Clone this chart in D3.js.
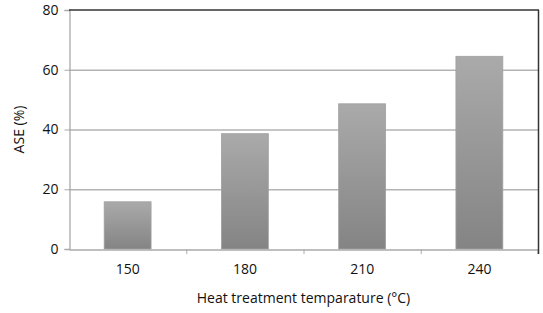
<!DOCTYPE html>
<html><head><meta charset="utf-8">
<script src="https://cdn.jsdelivr.net/npm/d3@7"></script>
<style>body{margin:0;background:#fff}svg{display:block}text{font-family:"Open Sans",Carlito,Calibri,sans-serif}</style>
</head><body><svg id="c" width="543" height="313"></svg>
<script>
const categories = ["150","180","210","240"];
const values = [15.8, 38.6, 48.6, 64.5];
const yTicks = [0,20,40,60,80];
const xTitle = "Heat treatment temparature (°C)";
const yTitle = "ASE (%)";

const svg = d3.select("#c");
const m = {l:69, r:538, t:10, b:249};
const x = d3.scaleBand().domain(categories).range([m.l, m.r]).paddingInner(0.6).paddingOuter(0.3);
const xb = d3.scaleBand().domain(categories).range([m.l, m.r]);
const y = d3.scaleLinear().domain([0,80]).range([m.b, m.t]);

const defs = svg.append("defs");
const g = defs.append("linearGradient").attr("id","bg").attr("x1",0).attr("y1",0).attr("x2",0).attr("y2",1);
g.append("stop").attr("offset","0%").attr("stop-color","#aaaaaa");
g.append("stop").attr("offset","100%").attr("stop-color","#848484");

// gridlines
svg.append("g").selectAll("line").data(yTicks.filter(d=>d>0 && d<80)).join("line")
  .attr("x1",m.l).attr("x2",m.r).attr("y1",d=>y(d)+0.5).attr("y2",d=>y(d)+0.5)
  .attr("stroke","#b3b3b3").attr("stroke-width",1.3);

// bars
svg.append("g").selectAll("rect").data(values).join("rect")
  .attr("x",(d,i)=>x(categories[i])).attr("width",x.bandwidth())
  .attr("y",d=>y(d)).attr("height",d=>y(0)-y(d))
  .attr("fill","url(#bg)").attr("stroke","#a0a0a0").attr("stroke-width",0.8);

// y axis
const ya = svg.append("g").attr("transform",`translate(${m.l+0.5},0)`)
  .call(d3.axisLeft(y).tickValues(yTicks).tickSize(5).tickPadding(6));
ya.select(".domain").attr("stroke","#aaaaaa").attr("stroke-width",1.3);
ya.selectAll(".tick line").attr("stroke","#aaaaaa");
ya.selectAll("text").attr("font-size",14).attr("fill","#111");

// x axis
const xa = svg.append("g").attr("transform",`translate(0,${m.b+0.5})`)
  .call(d3.axisBottom(xb).tickSize(0).tickPadding(15));
xa.select(".domain").attr("stroke","#aaaaaa").attr("stroke-width",1.3);
xa.selectAll("text").attr("font-size",14).attr("fill","#111");
svg.append("g").selectAll("line").data(categories.slice(1).concat(["end"])).join("line")
  .attr("x1",(d,i)=>i<3?xb(d)+0.5:m.r).attr("x2",(d,i)=>i<3?xb(d)+0.5:m.r)
  .attr("y1",m.b).attr("y2",m.b+5).attr("stroke","#aaaaaa");

// top and right border
svg.append("line").attr("x1",m.l).attr("x2",m.r+1).attr("y1",m.t).attr("y2",m.t).attr("stroke","#333").attr("stroke-width",1.5);
svg.append("line").attr("x1",m.r+0.5).attr("x2",m.r+0.5).attr("y1",m.t).attr("y2",m.b+5).attr("stroke","#333").attr("stroke-width",1.5);

svg.append("text").attr("x",(m.l+m.r)/2).attr("y",303).attr("text-anchor","middle").attr("font-size",14).attr("fill","#111").text(xTitle);
svg.append("text").attr("transform",`translate(24,${(m.t+m.b)/2}) rotate(-90)`).attr("text-anchor","middle").attr("font-size",14).attr("fill","#111").text(yTitle);
</script></body></html>
